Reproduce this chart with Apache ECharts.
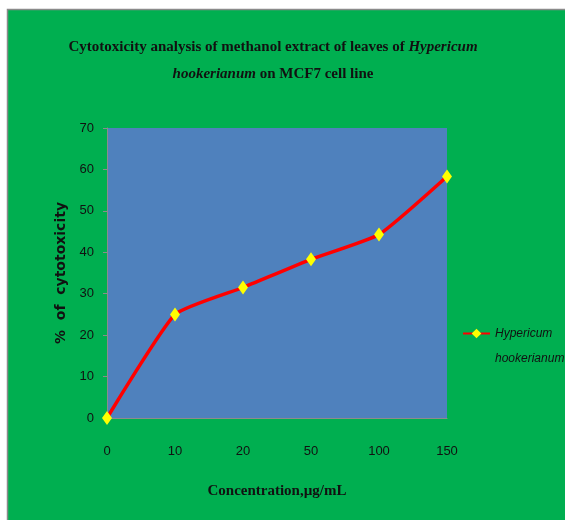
<!DOCTYPE html>
<html>
<head>
<meta charset="utf-8">
<script src="https://cdn.jsdelivr.net/npm/echarts@6/dist/echarts.min.js"></script>
<style>
  html, body { margin: 0; padding: 0; background: #fff; }
  #main { width: 565px; height: 520px; }
</style>
</head>
<body>
<div id="main"></div>
<script>
// concentrations (µg/mL) and % cytotoxicity
var concentrations = ['0', '10', '20', '50', '100', '150'];
var cytotoxicity = [0, 25, 31.5, 38.3, 44.3, 58.3];
var yTicks = { min: 0, max: 70, interval: 10 };

var chart = echarts.init(document.getElementById('main'));

chart.setOption({
  backgroundColor: '#fff',
  animation: false,
  graphic: [{
    type: 'rect',
    z: -10,
    shape: { x: 7.5, y: 9.5, width: 570, height: 520 },
    style: { fill: '#00AF50', stroke: '#8a8a8a', lineWidth: 1.5 }
  }],
  title: {
    left: 268,
    textAlign: 'center',
    top: 29,
    text: '{b|Cytotoxicity analysis of methanol extract of leaves of }{i|Hypericum}\n{i|hookerianum}{b| on MCF7 cell line}',
    textStyle: {
      rich: {
        b: { fontFamily: 'Liberation Serif', fontWeight: 'bold', fontSize: 15, color: '#111', lineHeight: 27 },
        i: { fontFamily: 'Liberation Serif', fontStyle: 'italic', fontSize: 15, color: '#111', lineHeight: 27 }
      }
    }
  },
  legend: {
    left: 457,
    top: 291,
    orient: 'vertical',
    itemWidth: 27,
    itemHeight: 12,
    formatter: function () { return ' \nHypericum\nhookerianum'; },
    textStyle: {
      fontFamily: 'Liberation Sans', fontStyle: 'italic', fontSize: 12, color: '#111',
      lineHeight: 25
    }
  },
  grid: {
    left: 107,
    right: 118,
    top: 128,
    bottom: 102,
    show: true,
    backgroundColor: '#4F81BD',
    borderWidth: 0
  },
  xAxis: {
    type: 'category',
    data: concentrations,
    boundaryGap: false,
    name: 'Concentration,µg/mL',
    nameLocation: 'middle',
    nameGap: 66,
    nameTextStyle: { fontFamily: 'Liberation Serif', fontWeight: 'bold', fontSize: 15, color: '#111' },
    axisLine: { lineStyle: { color: '#8c8c8c', width: 1 } },
    axisTick: { show: false },
    axisLabel: { margin: 27, fontFamily: 'Liberation Sans', fontSize: 13, color: '#111' },
    splitLine: { show: false }
  },
  yAxis: {
    type: 'value',
    min: yTicks.min,
    max: yTicks.max,
    interval: yTicks.interval,
    name: '%  of  cytotoxicity',
    nameLocation: 'middle',
    nameGap: 34,
    nameTextStyle: { fontFamily: 'DejaVu Sans', fontWeight: 'bold', fontSize: 14, color: '#111' },
    axisLine: { show: true, lineStyle: { color: '#8c8c8c', width: 1 } },
    axisTick: { show: true, length: 4, lineStyle: { color: '#8c8c8c' } },
    axisLabel: { margin: 13, fontFamily: 'Liberation Sans', fontSize: 13, color: '#111' },
    splitLine: { show: false }
  },
  series: [{
    name: 'Hypericum hookerianum',
    type: 'line',
    data: cytotoxicity,
    smooth: 0.15,
    symbol: 'diamond',
    symbolSize: [10, 14],
    itemStyle: { color: '#FFFF00', borderWidth: 0 },
    lineStyle: { color: '#FF0000', width: 3.5 }
  }]
});
</script>
</body>
</html>
